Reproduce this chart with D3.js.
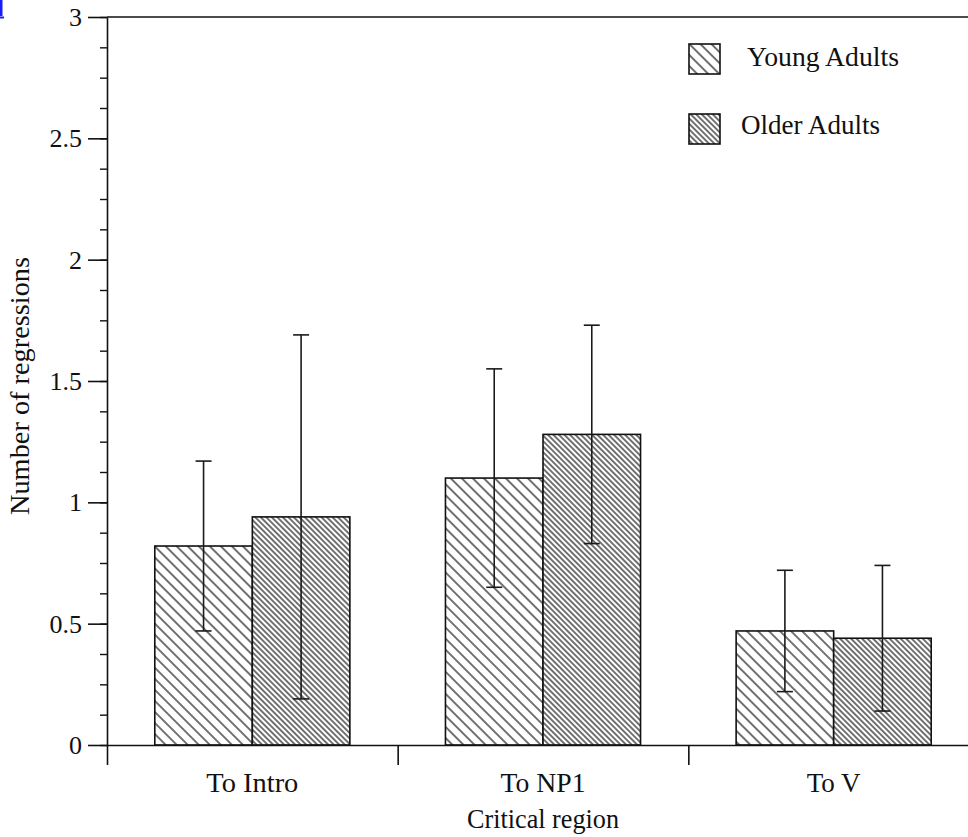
<!DOCTYPE html>
<html>
<head>
<meta charset="utf-8">
<script src="https://cdn.jsdelivr.net/npm/d3@7"></script>
<style>
  html, body { margin: 0; padding: 0; background: #fff; }
  svg { display: block; }
  text { font-family: "Liberation Serif", "DejaVu Serif", serif; fill: #111; }
</style>
</head>
<body>
<svg id="chart" width="968" height="837"></svg>
<script>
// Mean number of regressions per critical region, with error bars.
const categories = ["To Intro", "To NP1", "To V"];
const seriesNames = ["Young Adults", "Older Adults"];
const youngMeans = [0.82, 1.10, 0.47];
const youngErrors = [0.35, 0.45, 0.25];
const olderMeans = [0.94, 1.28, 0.44];
const olderErrors = [0.75, 0.45, 0.30];
const yMajorTicks = [0, 0.5, 1, 1.5, 2, 2.5, 3];
const yTickLabels = ["0", "0.5", "1", "1.5", "2", "2.5", "3"];
const yTitle = "Number of regressions";
const xTitle = "Critical region";

const rows = [];
categories.forEach((c, i) => {
  rows.push({ cat: c, series: seriesNames[0], mean: youngMeans[i], err: youngErrors[i] });
  rows.push({ cat: c, series: seriesNames[1], mean: olderMeans[i], err: olderErrors[i] });
});

const svg = d3.select("#chart");
const plotLeft = 107, plotRight = 979, plotTop = 17, plotBottom = 745;

const y = d3.scaleLinear().domain([0, 3]).range([plotBottom, plotTop]);
const x = d3.scaleBand().domain(categories).range([plotLeft, plotRight]).paddingInner(0).paddingOuter(0);
const xs = d3.scaleBand().domain(seriesNames).range([0, x.bandwidth()]).paddingInner(0).paddingOuter(0.49);

// Hatch patterns: wide "\" hatching for young adults, dense for older adults
const defs = svg.append("defs");
function hatch(id, spacing) {
  const p = defs.append("pattern")
    .attr("id", id)
    .attr("patternUnits", "userSpaceOnUse")
    .attr("width", spacing)
    .attr("height", spacing)
    .attr("patternTransform", "rotate(-45)");
  p.append("rect").attr("width", spacing).attr("height", spacing).attr("fill", "#fff");
  p.append("line")
    .attr("x1", spacing / 2).attr("x2", spacing / 2)
    .attr("y1", 0).attr("y2", spacing)
    .attr("stroke", "#151515").attr("stroke-width", 1.2);
}
hatch("hatch-young", 7.8);
hatch("hatch-older", 3.9);
const fillFor = s => s === seriesNames[0] ? "url(#hatch-young)" : "url(#hatch-older)";

// Bars
svg.append("g").selectAll("rect")
  .data(rows)
  .join("rect")
  .attr("x", d => x(d.cat) + xs(d.series))
  .attr("y", d => y(d.mean))
  .attr("width", xs.bandwidth())
  .attr("height", d => y(0) - y(d.mean))
  .attr("fill", d => fillFor(d.series))
  .attr("stroke", "#111")
  .attr("stroke-width", 1.6);

// Error bars
const capHalf = 8;
const eb = svg.append("g").attr("stroke", "#1a1a1a").attr("stroke-width", 1.6).attr("fill", "none");
rows.forEach(d => {
  const cx = x(d.cat) + xs(d.series) + xs.bandwidth() / 2;
  const y1 = y(d.mean + d.err), y0 = y(d.mean - d.err);
  eb.append("line").attr("x1", cx).attr("x2", cx).attr("y1", y1).attr("y2", y0);
  eb.append("line").attr("x1", cx - capHalf).attr("x2", cx + capHalf).attr("y1", y1).attr("y2", y1);
  eb.append("line").attr("x1", cx - capHalf).attr("x2", cx + capHalf).attr("y1", y0).attr("y2", y0);
});

// Top frame line
svg.append("line")
  .attr("x1", plotLeft).attr("x2", plotRight)
  .attr("y1", y(3)).attr("y2", y(3))
  .attr("stroke", "#111").attr("stroke-width", 1.6);

// Y axis: minor ticks then major ticks with labels
const yMinor = svg.append("g")
  .attr("transform", `translate(${plotLeft},0)`)
  .call(d3.axisLeft(y).tickValues(d3.range(0, 3.001, 0.125)).tickSize(7).tickFormat(""));
yMinor.select(".domain").remove();
yMinor.selectAll("line").attr("stroke", "#111").attr("stroke-width", 1.4);

const yMajor = svg.append("g")
  .attr("transform", `translate(${plotLeft},0)`)
  .call(d3.axisLeft(y).tickValues(yMajorTicks).tickSize(19).tickSizeOuter(0).tickPadding(6)
    .tickFormat((d, i) => yTickLabels[i]));
yMajor.select(".domain").attr("stroke", "#111").attr("stroke-width", 1.6);
yMajor.selectAll("line").attr("stroke", "#111").attr("stroke-width", 1.6);
yMajor.selectAll("text")
  .attr("font-family", "Liberation Serif")
  .attr("font-size", 26)
  .attr("fill", "#111")
  .attr("dy", "0.33em");

// X axis: ticks at the category boundaries
const xBounds = d3.scaleLinear().domain([0, categories.length]).range([plotLeft, plotRight]);
const xAxis = svg.append("g")
  .attr("transform", `translate(0,${plotBottom})`)
  .call(d3.axisBottom(xBounds).tickValues(d3.range(0, categories.length + 1)).tickSize(20).tickSizeOuter(0).tickFormat(""));
xAxis.select(".domain").attr("stroke", "#111").attr("stroke-width", 1.6);
xAxis.selectAll("line").attr("stroke", "#111").attr("stroke-width", 1.6);

// Category labels, centred under each group
const labelWidth = [92, 85, 54];
svg.append("g").selectAll("text")
  .data(categories)
  .join("text")
  .attr("x", d => x(d) + x.bandwidth() / 2)
  .attr("y", 792)
  .attr("text-anchor", "middle")
  .attr("font-size", 27)
  .attr("textLength", (d, i) => labelWidth[i])
  .attr("lengthAdjust", "spacingAndGlyphs")
  .text(d => d);

// Axis titles
svg.append("text")
  .attr("x", (plotLeft + plotRight) / 2).attr("y", 828)
  .attr("text-anchor", "middle")
  .attr("font-size", 27)
  .attr("textLength", 152)
  .attr("lengthAdjust", "spacingAndGlyphs")
  .text(xTitle);

svg.append("text")
  .attr("transform", "translate(29,386) rotate(-90)")
  .attr("text-anchor", "middle")
  .attr("font-size", 27)
  .attr("textLength", 258)
  .attr("lengthAdjust", "spacingAndGlyphs")
  .text(yTitle);

// Legend
const legend = svg.append("g");
const legendRows = [
  { name: seriesNames[0], boxY: 44, textX: 747, textY: 66, len: 152 },
  { name: seriesNames[1], boxY: 114, textX: 741, textY: 134, len: 139 }
];
legendRows.forEach(r => {
  legend.append("rect")
    .attr("x", 689).attr("y", r.boxY)
    .attr("width", 31).attr("height", 30)
    .attr("fill", fillFor(r.name))
    .attr("stroke", "#111").attr("stroke-width", 1.6);
  legend.append("text")
    .attr("x", r.textX).attr("y", r.textY)
    .attr("font-size", 27)
    .attr("textLength", r.len)
    .attr("lengthAdjust", "spacingAndGlyphs")
    .text(r.name);
});

// Small link marker in the top-left corner
svg.append("path")
  .attr("d", "M0,0 H2.5 V16 H0 Z M0,16.5 H4 V18.5 H0 Z")
  .attr("fill", "#1a1aff");
</script>
</body>
</html>
